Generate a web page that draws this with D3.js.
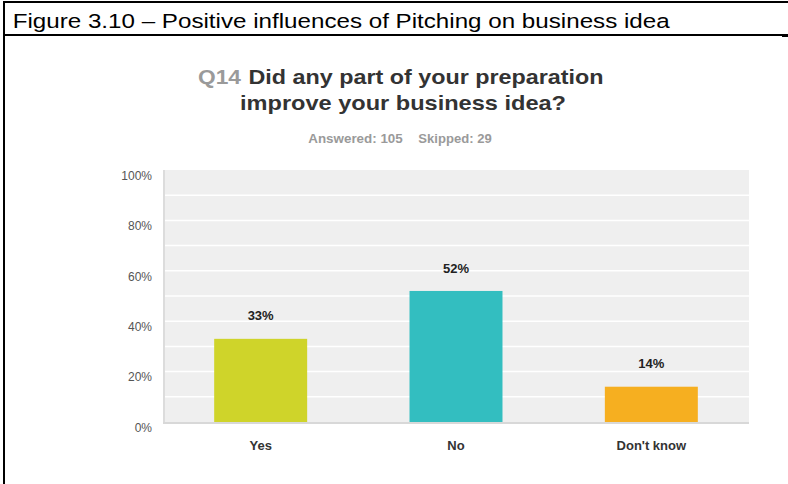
<!DOCTYPE html>
<html>
<head>
<meta charset="utf-8">
<script src="https://cdn.jsdelivr.net/npm/d3@7"></script>
<style>
  html, body { margin: 0; padding: 0; background: #fff; }
  svg { display: block; }
</style>
</head>
<body>
<svg id="chart" width="788" height="484"></svg>
<script>
// Survey question Q14 responses
const categories = ["Yes", "No", "Don't know"];
const shares = [0.33, 0.52, 0.14];
const shareLabels = ["33%", "52%", "14%"];
const barColors = ["#cfd42a", "#33bec0", "#f6af20"];
const yTickValues = [0, 0.2, 0.4, 0.6, 0.8, 1.0];
const yTickLabels = ["0%", "20%", "40%", "60%", "80%", "100%"];
const gridValues = [0.1, 0.2, 0.3, 0.4, 0.5, 0.6, 0.7, 0.8, 0.9];

const svg = d3.select("#chart");
const W = 788, H = 484;

svg.append("rect").attr("width", W).attr("height", H).attr("fill", "#fff");

// Figure frame and caption
const frame = svg.append("g");
frame.append("rect").attr("x", 3).attr("y", 1).attr("width", W - 3).attr("height", 2).attr("fill", "#000");
frame.append("rect").attr("x", 3).attr("y", 1).attr("width", 2).attr("height", H - 1).attr("fill", "#000");
frame.append("rect").attr("x", 3).attr("y", 34).attr("width", 779).attr("height", 2).attr("fill", "#000");
frame.append("rect").attr("x", 782).attr("y", 34).attr("width", 6).attr("height", 3).attr("fill", "#000");

frame.append("text")
  .attr("x", 12.7).attr("y", 28)
  .attr("font-family", "'Liberation Sans', Arial, sans-serif")
  .attr("font-size", 20.5)
  .attr("fill", "#000")
  .attr("textLength", 657).attr("lengthAdjust", "spacingAndGlyphs")
  .text("Figure 3.10 – Positive influences of Pitching on business idea");

// Chart title
const title = svg.append("g")
  .attr("font-family", "'Liberation Sans', Arial, sans-serif")
  .attr("font-weight", "bold")
  .attr("font-size", 21);
title.append("text").attr("x", 198).attr("y", 84)
  .attr("fill", "#9a9a9a")
  .attr("textLength", 43).attr("lengthAdjust", "spacingAndGlyphs")
  .text("Q14");
title.append("text").attr("x", 248.5).attr("y", 84)
  .attr("fill", "#333")
  .attr("textLength", 355).attr("lengthAdjust", "spacingAndGlyphs")
  .text("Did any part of your preparation");
title.append("text").attr("x", 240).attr("y", 110)
  .attr("fill", "#333")
  .attr("textLength", 326).attr("lengthAdjust", "spacingAndGlyphs")
  .text("improve your business idea?");

const sub = svg.append("g")
  .attr("font-family", "'Liberation Sans Narrow', 'Liberation Sans', Arial, sans-serif")
  .attr("font-weight", "bold")
  .attr("font-size", 12.5)
  .attr("fill", "#9a9a9a");
sub.append("text").attr("x", 308.3).attr("y", 142.5)
  .attr("textLength", 94.4).attr("lengthAdjust", "spacingAndGlyphs")
  .text("Answered: 105");
sub.append("text").attr("x", 418.3).attr("y", 142.5)
  .attr("textLength", 73.4).attr("lengthAdjust", "spacingAndGlyphs")
  .text("Skipped: 29");

// Plot area
const plotLeft = 163, plotRight = 749, plotTop = 170, plotBottom = 422;

const x = d3.scaleBand()
  .domain(categories)
  .range([plotLeft, plotRight])
  .paddingInner(0.524)
  .paddingOuter(0.262);

const y = d3.scaleLinear().domain([0, 1]).range([plotBottom, plotTop]);

svg.append("rect")
  .attr("x", plotLeft).attr("y", plotTop)
  .attr("width", plotRight - plotLeft).attr("height", plotBottom - plotTop)
  .attr("fill", "#efefef");

svg.append("g").selectAll("line")
  .data(gridValues)
  .join("line")
  .attr("x1", plotLeft + 2).attr("x2", plotRight)
  .attr("y1", d => y(d)).attr("y2", d => y(d))
  .attr("stroke", "#fff").attr("stroke-width", 1.5);

// axis lines
svg.append("rect").attr("x", plotLeft).attr("y", plotTop).attr("width", 2).attr("height", plotBottom - plotTop + 1).attr("fill", "#dcdcdc");

// Bars
svg.append("g").selectAll("rect")
  .data(categories)
  .join("rect")
  .attr("x", d => x(d))
  .attr("width", x.bandwidth())
  .attr("y", (d, i) => y(shares[i]))
  .attr("height", (d, i) => y(0) - y(shares[i]))
  .attr("fill", (d, i) => barColors[i]);

svg.append("rect").attr("x", plotLeft).attr("y", plotBottom).attr("width", plotRight - plotLeft).attr("height", 2).attr("fill", "#d8d8d8");

// Value labels
svg.append("g").selectAll("text")
  .data(categories)
  .join("text")
  .attr("x", d => x(d) + x.bandwidth() / 2)
  .attr("y", (d, i) => y(shares[i]) - 23)
  .attr("dy", "0.35em")
  .attr("text-anchor", "middle")
  .attr("font-family", "'Liberation Sans', Arial, sans-serif")
  .attr("font-weight", "bold")
  .attr("font-size", 13)
  .attr("fill", "#222")
  .text((d, i) => shareLabels[i]);

// Y axis labels
const yAxis = d3.axisLeft(y)
  .tickValues(yTickValues)
  .tickFormat((d, i) => yTickLabels[i])
  .tickSize(0)
  .tickPadding(11);
const gy = svg.append("g").attr("transform", `translate(${plotLeft},0)`).call(yAxis);
gy.select(".domain").remove();
gy.selectAll("text")
  .attr("dy", "0.35em")
  .attr("y", 5)
  .attr("font-family", "'Liberation Sans', Arial, sans-serif")
  .attr("font-size", 12)
  .attr("fill", "#555");

// X axis labels
const xAxis = d3.axisBottom(x).tickSize(0).tickPadding(0);
const gx = svg.append("g").attr("transform", `translate(0,${plotBottom})`).call(xAxis);
gx.select(".domain").remove();
gx.selectAll("text")
  .attr("y", 23)
  .attr("dy", "0.35em")
  .attr("font-family", "'Liberation Sans Narrow', 'Liberation Sans', Arial, sans-serif")
  .attr("font-weight", "bold")
  .attr("font-size", 13)
  .attr("fill", "#333");
</script>
</body>
</html>
